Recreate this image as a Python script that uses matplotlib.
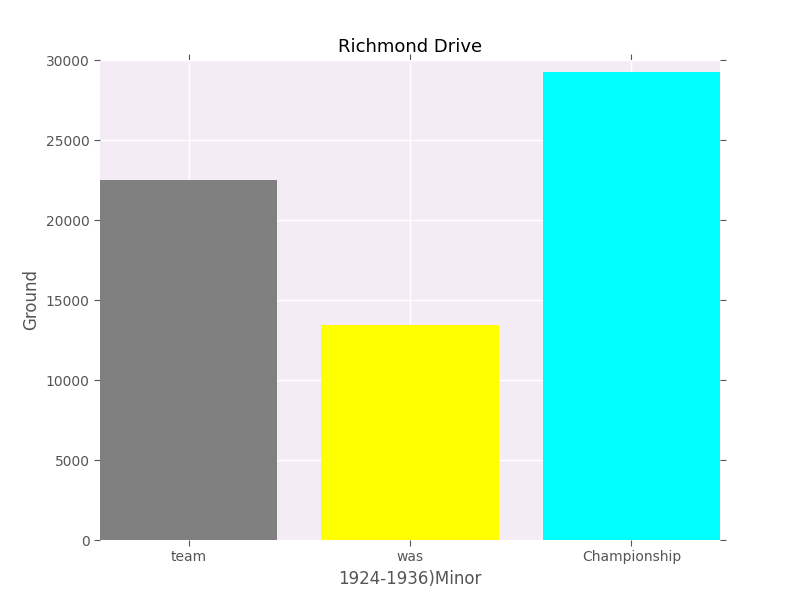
import matplotlib
matplotlib.use('Agg')
import matplotlib.pyplot as plt

categories = ['team', 'was', 'Championship']
values = [22500, 13450, 29250]
colors = ['#808080', '#ffff00', '#00ffff']

fig = plt.figure(figsize=(8, 6), dpi=100)
ax = fig.add_axes([0.125, 0.1, 0.775, 0.8])
ax.set_facecolor('#f4ecf4')
ax.bar(range(len(categories)), values, color=colors, width=0.8, zorder=2)
ax.set_xlim(-0.4, 2.4)
ax.set_ylim(0, 30000)
ax.set_xticks(range(len(categories)))
ax.set_xticklabels(categories)
ax.grid(True, color='white', linewidth=1, zorder=1)
for s in ax.spines.values():
    s.set_visible(False)
ax.tick_params(direction='out', length=4, color='#555555', labelcolor='#555555',
               labelsize=10, top=True, right=True)
ax.set_title('Richmond Drive', fontsize=13)
ax.set_xlabel('1924-1936)Minor', fontsize=12, color='#555555')
ax.set_ylabel('Ground', fontsize=12, color='#555555')
fig.savefig('out.png')
